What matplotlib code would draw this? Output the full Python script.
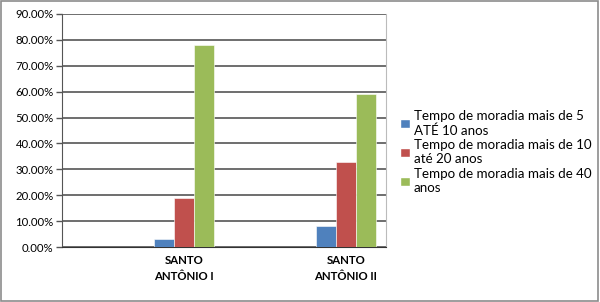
import numpy as np
import matplotlib.pyplot as plt
from matplotlib.patches import Patch, Rectangle

plt.rcParams['font.family'] = ['Lato', 'DejaVu Sans']

categories = ['SANTO\nANTÔNIO I', 'SANTO\nANTÔNIO II']
series_names = ['Tempo de moradia mais de 5\nATÉ 10 anos',
                'Tempo de moradia mais de 10\naté 20 anos',
                'Tempo de moradia mais de 40\nanos']
mais_5_ate_10 = [3, 8]
mais_10_ate_20 = [19, 33]
mais_40 = [78, 59]
colors = ['#4F81BD', '#C0504D', '#9BBB59']

fig = plt.figure(figsize=(6, 3.02), dpi=100)
# gray frame around the whole chart
fig.patches.append(Rectangle((0.002, 0.003), 0.995, 0.993, transform=fig.transFigure,
                             fill=False, edgecolor='#8c8c8c', linewidth=1.2))

ax = fig.add_axes([62/600, 1 - 247/302, (386 - 62)/600, (247 - 14)/302])

x = np.arange(len(categories))
w = 0.124
for i, vals in enumerate([mais_5_ate_10, mais_10_ate_20, mais_40]):
    ax.bar(x + (i - 1)*w, vals, w, color=colors[i], edgecolor='white',
           linewidth=0.4, zorder=3)

ax.set_xlim(-0.758, 1.25)
ax.set_ylim(0, 90)
ax.set_yticks(np.arange(0, 91, 10))
ax.set_yticklabels(['%.2f%%' % v for v in np.arange(0, 91, 10)], fontsize=8.2)
ax.yaxis.grid(True, color='#555555', linewidth=1.2, zorder=0)
ax.tick_params(axis='y', length=4, width=1, color='#555555', pad=2)
ax.set_xticks(x)
ax.set_xticklabels(categories, fontsize=8.2, fontweight='bold', linespacing=1.5)
ax.tick_params(axis='x', length=0, pad=6)

ax.spines['top'].set_visible(False)
ax.spines['left'].set_color('#555555')
ax.spines['bottom'].set_color('#333333')
ax.spines['right'].set_color('#bbbbbb')

handles = [Patch(facecolor=c, edgecolor='white') for c in colors]
fig.legend(handles, series_names, loc='center left', bbox_to_anchor=(395/600, 1 - 152/302),
           frameon=False, fontsize=9.6, handlelength=0.7, handleheight=0.7,
           handletextpad=0.3, labelspacing=0.2, borderaxespad=0)

plt.savefig('out.png', dpi=100)
